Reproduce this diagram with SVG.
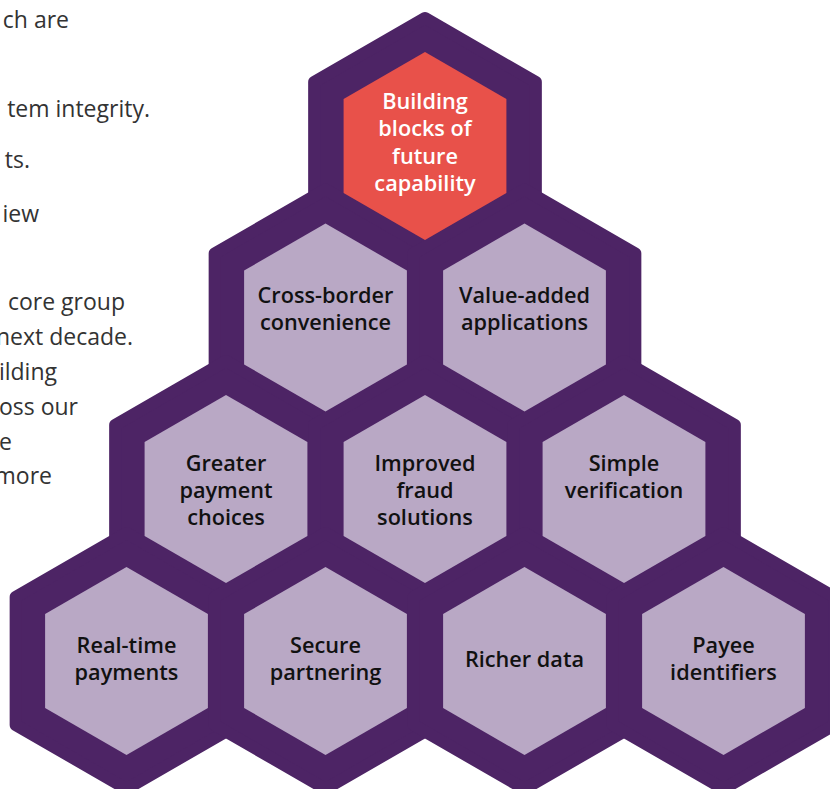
<svg xmlns="http://www.w3.org/2000/svg" xmlns:xlink="http://www.w3.org/1999/xlink" width="830" height="789" viewBox="0 0 830 789">
<style>
.frame{fill:#4d2465;stroke:#4d2465;stroke-width:12;stroke-linejoin:round}
.cell{fill:#b9a8c5}
.core{fill:#e8514a}
.lbl{font-family:"Open Sans","Noto Sans","Liberation Sans",sans-serif;font-size:21.7px;font-weight:600;fill:#111;text-anchor:middle}
.lbl.w{fill:#ffffff}
.side{font-family:"Open Sans","Noto Sans","Liberation Sans",sans-serif;font-size:23px;fill:#333333;text-anchor:end}
</style>
<defs>
<polygon id="outer" points="0,-128 110.85,-64 110.85,64 0,128 -110.85,64 -110.85,-64"/>
<polygon id="inner" points="0,-94 81.4,-47 81.4,47 0,94 -81.4,47 -81.4,-47"/>
</defs>
<rect width="830" height="789" fill="#ffffff"/>
<g id="side-text">
<text class="side" x="69" y="28">ch are</text>
<text class="side" x="150" y="117">tem integrity.</text>
<text class="side" x="30" y="168">ts.</text>
<text class="side" x="39" y="222">iew</text>
<text class="side" x="125" y="310">core group</text>
<text class="side" x="133" y="345">next decade.</text>
<text class="side" x="57" y="380">ilding</text>
<text class="side" x="78" y="415">oss our</text>
<text class="side" x="12" y="450">e</text>
<text class="side" x="52" y="484">more</text>
</g>
<g id="frame">
<use href="#outer" class="frame" x="425" y="146"/>
<use href="#outer" class="frame" x="325.5" y="317.5"/>
<use href="#outer" class="frame" x="524.5" y="317.5"/>
<use href="#outer" class="frame" x="226" y="489"/>
<use href="#outer" class="frame" x="425" y="489"/>
<use href="#outer" class="frame" x="624" y="489"/>
<use href="#outer" class="frame" x="126.5" y="661"/>
<use href="#outer" class="frame" x="325.5" y="661"/>
<use href="#outer" class="frame" x="524.5" y="661"/>
<use href="#outer" class="frame" x="723.5" y="661"/>
</g>
<g id="connectors"></g>
<g id="node-building-blocks">
<use href="#inner" class="core" x="425" y="146"/>
<text class="lbl w" x="425" y="109">Building</text>
<text class="lbl w" x="425" y="136">blocks of</text>
<text class="lbl w" x="425" y="164">future</text>
<text class="lbl w" x="425" y="191">capability</text>
</g>
<g id="node-cross-border">
<use href="#inner" class="cell" x="325.5" y="317.5"/>
<text class="lbl" x="325.5" y="303">Cross-border</text>
<text class="lbl" x="325.5" y="330">convenience</text>
</g>
<g id="node-value-added">
<use href="#inner" class="cell" x="524.5" y="317.5"/>
<text class="lbl" x="524.5" y="303">Value-added</text>
<text class="lbl" x="524.5" y="330">applications</text>
</g>
<g id="node-greater-payment">
<use href="#inner" class="cell" x="226" y="489"/>
<text class="lbl" x="226" y="471">Greater</text>
<text class="lbl" x="226" y="498">payment</text>
<text class="lbl" x="226" y="525">choices</text>
</g>
<g id="node-improved-fraud">
<use href="#inner" class="cell" x="425" y="489"/>
<text class="lbl" x="425" y="471">Improved</text>
<text class="lbl" x="425" y="498">fraud</text>
<text class="lbl" x="425" y="525">solutions</text>
</g>
<g id="node-simple-verification">
<use href="#inner" class="cell" x="624" y="489"/>
<text class="lbl" x="624" y="471">Simple</text>
<text class="lbl" x="624" y="498">verification</text>
</g>
<g id="node-real-time">
<use href="#inner" class="cell" x="126.5" y="661"/>
<text class="lbl" x="126.5" y="653">Real-time</text>
<text class="lbl" x="126.5" y="680">payments</text>
</g>
<g id="node-secure-partnering">
<use href="#inner" class="cell" x="325.5" y="661"/>
<text class="lbl" x="325.5" y="653">Secure</text>
<text class="lbl" x="325.5" y="680">partnering</text>
</g>
<g id="node-richer-data">
<use href="#inner" class="cell" x="524.5" y="661"/>
<text class="lbl" x="524.5" y="667">Richer data</text>
</g>
<g id="node-payee-identifiers">
<use href="#inner" class="cell" x="723.5" y="661"/>
<text class="lbl" x="723.5" y="653">Payee</text>
<text class="lbl" x="723.5" y="680">identifiers</text>
</g>
</svg>
